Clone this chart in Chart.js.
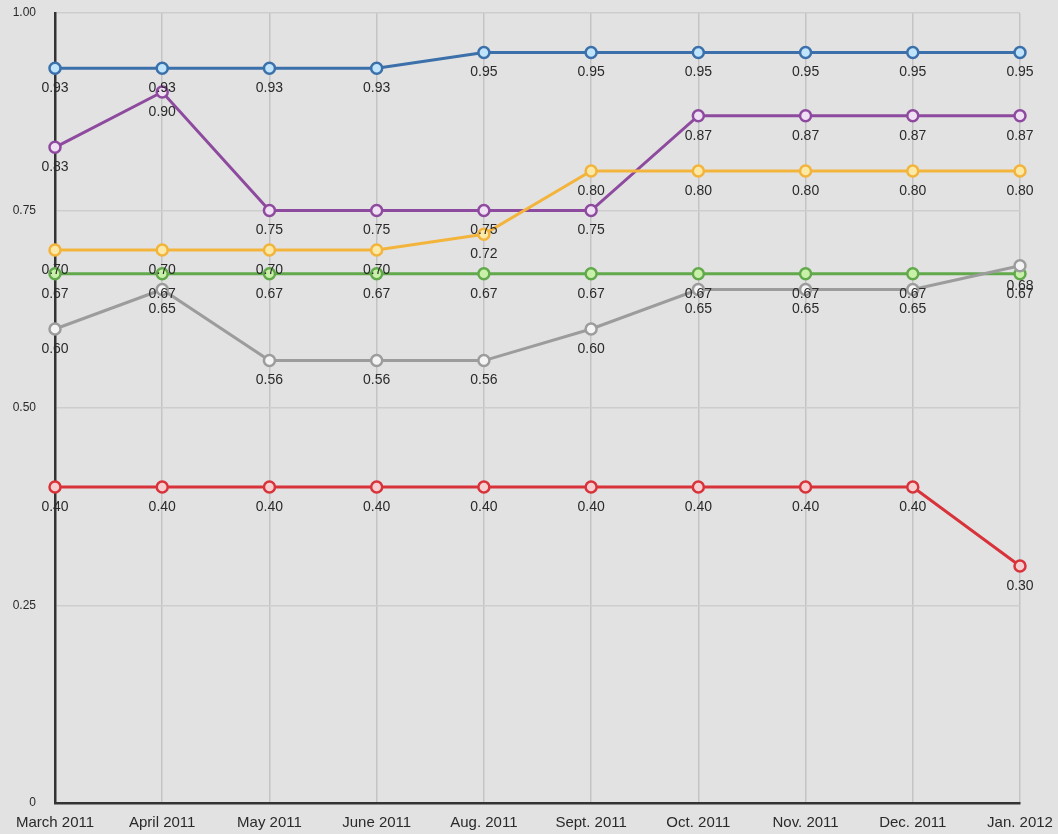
<!DOCTYPE html>
<html>
<head>
<meta charset="utf-8">
<script src="https://cdn.jsdelivr.net/npm/chart.js@4"></script>
<style>
  html, body { margin: 0; padding: 0; background: #e2e2e2; }
  #wrap { width: 1058px; height: 834px; }
</style>
</head>
<body>
<div id="wrap"><canvas id="chart"></canvas></div>
<script>
// categories
var months = ['March 2011', 'April 2011', 'May 2011', 'June 2011', 'Aug. 2011',
              'Sept. 2011', 'Oct. 2011', 'Nov. 2011', 'Dec. 2011', 'Jan. 2012'];

// series values
var blueVals   = [0.93, 0.93, 0.93, 0.93, 0.95, 0.95, 0.95, 0.95, 0.95, 0.95];
var purpleVals = [0.83, 0.90, 0.75, 0.75, 0.75, 0.75, 0.87, 0.87, 0.87, 0.87];
var orangeVals = [0.70, 0.70, 0.70, 0.70, 0.72, 0.80, 0.80, 0.80, 0.80, 0.80];
var greenVals  = [0.67, 0.67, 0.67, 0.67, 0.67, 0.67, 0.67, 0.67, 0.67, 0.67];
var grayVals   = [0.60, 0.65, 0.56, 0.56, 0.56, 0.60, 0.65, 0.65, 0.65, 0.68];
var redVals    = [0.40, 0.40, 0.40, 0.40, 0.40, 0.40, 0.40, 0.40, 0.40, 0.30];

// y tick values
var yTicks = [0, 0.25, 0.5, 0.75, 1];

var fontFam = '"Liberation Sans", Arial, sans-serif';

function series(vals, line, fill) {
    return {
        data: vals,
        borderColor: line,
        borderWidth: 3,
        pointRadius: 5.5,
        pointBorderWidth: 2.5,
        pointBorderColor: line,
        pointBackgroundColor: fill,
        tension: 0
    };
}

// draws the value under every point
var valueLabels = {
    id: 'valueLabels',
    afterDatasetsDraw: function(chart) {
        var ctx = chart.ctx;
        ctx.save();
        ctx.font = '14px ' + fontFam;
        ctx.fillStyle = '#2a2a2a';
        ctx.textAlign = 'center';
        ctx.textBaseline = 'middle';
        chart.data.datasets.forEach(function(ds, i) {
            chart.getDatasetMeta(i).data.forEach(function(pt, j) {
                ctx.fillText(ds.data[j].toFixed(2), pt.x, pt.y + 20);
            });
        });
        ctx.restore();
    }
};

var ctx = document.getElementById('chart').getContext('2d');
var chart = new Chart(ctx, {
    type: 'line',
    data: {
        labels: months,
        datasets: [
            series(redVals, '#d8333b', '#f6d0d0'),
            series(grayVals, '#9c9c9c', '#f4f4f4'),
            series(greenVals, '#62a94c', '#c9f0a8'),
            series(orangeVals, '#f3b43c', '#fbe9a8'),
            series(purpleVals, '#8d4a9e', '#f0e0f4'),
            series(blueVals, '#3b70aa', '#bfe4fb')
        ]
    },
    options: {
        responsive: true,
        maintainAspectRatio: false,
        animation: false,
        layout: { padding: { top: 13, right: 38, left: 0, bottom: 0 } },
        plugins: { legend: { display: false }, tooltip: { enabled: false } },
        scales: {
            x: {
                offset: false,
                grid: { color: '#c4c4c4', lineWidth: 1.5, drawTicks: false },
                border: { color: '#333', width: 2.5 },
                ticks: {
                    color: '#2a2a2a', padding: 11, maxRotation: 0, autoSkip: false,
                    font: { family: fontFam, size: 15 }
                },
                afterFit: function(axis) {
                    axis.height = 31;
                    axis.paddingLeft = 0;
                    axis.paddingRight = 0;
                }
            },
            y: {
                min: 0,
                max: 1,
                afterBuildTicks: function(axis) {
                    axis.ticks = yTicks.map(function(v) { return { value: v }; });
                },
                grid: { color: '#cdcdcd', lineWidth: 1.5, drawTicks: false },
                border: { color: '#333', width: 2.5 },
                ticks: {
                    color: '#2a2a2a', padding: 19,
                    font: { family: fontFam, size: 12 },
                    callback: function(v) { return v === 0 ? '0' : v.toFixed(2); }
                },
                afterFit: function(axis) {
                    axis.width = 55;
                    axis.paddingTop = 0;
                    axis.paddingBottom = 0;
                }
            }
        }
    },
    plugins: [valueLabels]
});
</script>
</body>
</html>
